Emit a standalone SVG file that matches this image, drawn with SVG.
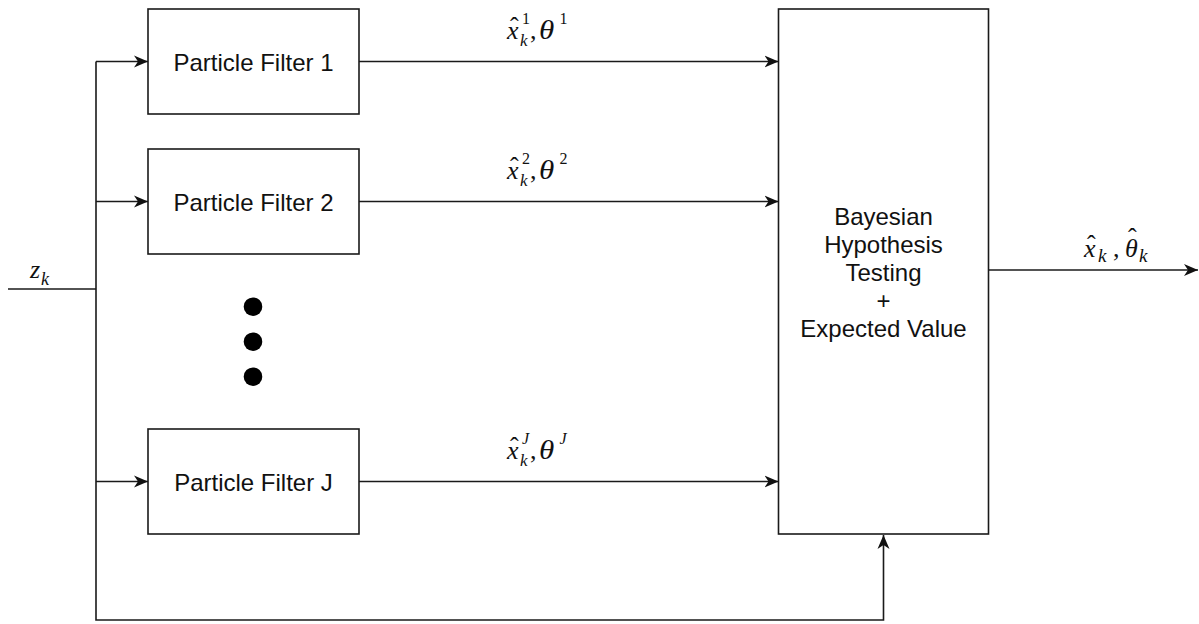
<svg xmlns="http://www.w3.org/2000/svg" width="1199" height="624" viewBox="0 0 1199 624">
<style>
.box{fill:#fff;stroke:#1a1a1a;stroke-width:1.6}
.ln{fill:none;stroke:#1a1a1a;stroke-width:1.6}
.lbl{font-family:"Liberation Sans",Arial,sans-serif;font-size:24px;fill:#111;text-anchor:middle}
.math{font-family:"Liberation Serif","Times New Roman",serif;font-size:26px;fill:#111}
.i{font-style:italic}
.s{font-size:16px}
.h{font-style:normal}
</style>
<defs>
<marker id="arr" viewBox="0 0 14 13" refX="14" refY="6.5" markerWidth="14" markerHeight="13" orient="auto" markerUnits="userSpaceOnUse">
<path d="M0,0.5 L14,6.5 L0,12.5 L4,6.5 Z" fill="#111"/>
</marker>
</defs>

<g id="connectors">
<path class="ln" d="M8,289 H96"/>
<path class="ln" d="M96,61.5 V620 H883.5 V535" marker-end="url(#arr)"/>
<path class="ln" d="M96,61.5 H148" marker-end="url(#arr)"/>
<path class="ln" d="M96,201.5 H148" marker-end="url(#arr)"/>
<path class="ln" d="M96,481.5 H148" marker-end="url(#arr)"/>
<path class="ln" d="M359,61.5 H778.5" marker-end="url(#arr)"/>
<path class="ln" d="M359,201.5 H778.5" marker-end="url(#arr)"/>
<path class="ln" d="M359,481.5 H778.5" marker-end="url(#arr)"/>
<path class="ln" d="M988.5,270 H1198" marker-end="url(#arr)"/>
</g>

<g id="label-zk">
<text class="math"><tspan class="i" x="30" y="278">z</tspan><tspan class="i" style="font-size:18px" x="41" y="285">k</tspan></text>
</g>

<g id="label-1">
<text class="math"><tspan class="i" x="507" y="38.5">x</tspan><tspan class="h" x="510" y="35">ˆ</tspan><tspan class="s" x="522" y="24">1</tspan><tspan class="i" style="font-size:17px" x="520" y="46">k</tspan><tspan x="530" y="38.5">,</tspan></text>
<text class="math i" style="font-size:27px" transform="translate(539,38.5) scale(1.15,1)">θ</text>
<text class="math s" x="559.5" y="24">1</text>
</g>

<g id="label-2">
<text class="math"><tspan class="i" x="507" y="178.5">x</tspan><tspan class="h" x="510" y="175">ˆ</tspan><tspan class="s" x="522" y="164">2</tspan><tspan class="i" style="font-size:17px" x="520" y="186">k</tspan><tspan x="530" y="178.5">,</tspan></text>
<text class="math i" style="font-size:27px" transform="translate(539,178.5) scale(1.15,1)">θ</text>
<text class="math s" x="559.5" y="164">2</text>
</g>

<g id="label-J">
<text class="math"><tspan class="i" x="507" y="458.5">x</tspan><tspan class="h" x="510" y="455">ˆ</tspan><tspan class="i s" x="522" y="444">J</tspan><tspan class="i" style="font-size:17px" x="520" y="466">k</tspan><tspan x="530" y="458.5">,</tspan></text>
<text class="math i" style="font-size:27px" transform="translate(539,458.5) scale(1.15,1)">θ</text>
<text class="math i s" x="559.5" y="444">J</text>
</g>

<g id="label-out">
<text class="math"><tspan class="i" x="1084" y="257">x</tspan><tspan class="h" x="1087" y="253">ˆ</tspan><tspan class="i" style="font-size:19px" x="1098" y="262">k</tspan><tspan x="1113" y="257">,</tspan><tspan class="i" x="1125" y="257">θ</tspan><tspan class="h" x="1128" y="246">ˆ</tspan><tspan class="i" style="font-size:19px" x="1139" y="262">k</tspan></text>
</g>

<g id="pf1">
<rect class="box" x="148" y="9" width="211" height="105"/>
<text class="lbl" x="253.5" y="71">Particle Filter 1</text>
</g>
<g id="pf2">
<rect class="box" x="148" y="149" width="211" height="105"/>
<text class="lbl" x="253.5" y="211">Particle Filter 2</text>
</g>
<g id="pfJ">
<rect class="box" x="148" y="429" width="211" height="105"/>
<text class="lbl" x="253.5" y="491">Particle Filter J</text>
</g>

<g id="dots">
<circle cx="253" cy="306.7" r="9.3" fill="#000"/>
<circle cx="253" cy="341.7" r="9.3" fill="#000"/>
<circle cx="253" cy="376.7" r="9.3" fill="#000"/>
</g>

<g id="bayes">
<rect class="box" x="778.5" y="9" width="210" height="525"/>
<text class="lbl" x="883.5" y="225">Bayesian</text>
<text class="lbl" x="883.5" y="253">Hypothesis</text>
<text class="lbl" x="883.5" y="281">Testing</text>
<text class="lbl" x="883.5" y="309">+</text>
<text class="lbl" x="883.5" y="337">Expected Value</text>
</g>
</svg>
